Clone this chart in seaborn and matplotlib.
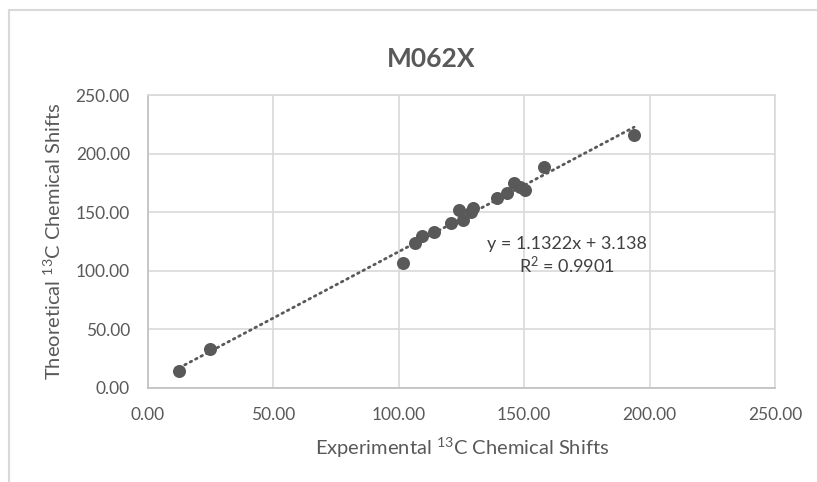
import numpy as np
import pandas as pd
import matplotlib
matplotlib.use("Agg")
import matplotlib.pyplot as plt
import seaborn as sns
from matplotlib.patches import Rectangle

# Experimental vs. theoretical 13C chemical shifts (ppm)
experimental = [12.5, 24.7, 101.8, 106.5, 109.1, 114.2, 120.8, 124.1, 125.5,
                128.7, 129.7, 139.3, 143.3, 145.9, 148.3, 150.3, 157.9, 193.8]
theoretical = [14.8, 33.0, 106.9, 124.0, 129.7, 133.4, 140.5, 151.9, 143.3,
               150.4, 153.3, 161.8, 166.6, 174.7, 171.2, 168.9, 188.3, 215.9]

# Linear trendline parameters
slope = 1.1322
intercept = 3.138
r_squared = 0.9901

axis_ticks = [0, 50, 100, 150, 200, 250]
tick_labels = [f"{t:.2f}" for t in axis_ticks]

sns.set_theme(style="white")
plt.rcParams["font.family"] = ["Lato", "DejaVu Sans"]
plt.rcParams["mathtext.fontset"] = "custom"
plt.rcParams["mathtext.rm"] = "Lato"

TEXT = "#595959"
GRID = "#d9d9d9"

fig = plt.figure(figsize=(8.17, 4.82), dpi=100)
W, H = 817, 482
ax = fig.add_axes([148 / W, 1 - 388 / H, (775 - 148) / W, (388 - 95) / H])

df = pd.DataFrame({"exp": experimental, "theo": theoretical})

# trendline over the data range
x_fit = np.array([min(experimental), max(experimental)])
fit = pd.DataFrame({"x": x_fit, "y": slope * x_fit + intercept})
sns.lineplot(data=fit, x="x", y="y", ax=ax, color=TEXT, linewidth=2.0,
             linestyle=(0, (0.6, 1.6)), dash_capstyle="round", zorder=2)

sns.scatterplot(data=df, x="exp", y="theo", ax=ax, s=88, color=TEXT,
                edgecolor=TEXT, linewidth=0, zorder=3)

ax.set_xlim(0, 250)
ax.set_ylim(0, 250)
ax.set_xticks(axis_ticks)
ax.set_yticks(axis_ticks)
ax.set_xticklabels(tick_labels)
ax.set_yticklabels(tick_labels)
ax.tick_params(axis="both", length=0, labelsize=12.5, colors=TEXT)
ax.tick_params(axis="x", pad=14)
ax.tick_params(axis="y", pad=13)
ax.grid(True, color=GRID, linewidth=1.2)
ax.set_axisbelow(True)
for side in ["top", "right"]:
    ax.spines[side].set_color(GRID)
    ax.spines[side].set_linewidth(1.2)
for side in ["left", "bottom"]:
    ax.spines[side].set_color("#bfbfbf")
    ax.spines[side].set_linewidth(1.2)
ax.set_xlabel("")
ax.set_ylabel("")

fig.text(462 / W, 1 - 448 / H, r"Experimental $\mathregular{^{13}}$C Chemical Shifts",
         ha="center", va="center", fontsize=14.5, color=TEXT)
fig.text(53 / W, 1 - 241 / H, r"Theoretical $\mathregular{^{13}}$C Chemical Shifts",
         ha="center", va="center", rotation=90, fontsize=14.5, color=TEXT)

fig.text(431 / W, 1 - 67 / H, "M062X", ha="center", va="baseline",
         fontsize=19, fontweight="bold", color=TEXT)

ax.text(167.1, 118.6, f"y = {slope}x + {intercept}", ha="center", va="baseline",
        fontsize=13, color="#404040")
ax.text(167.1, 98.1, r"R$\mathregular{^2}$ = " + f"{r_squared}", ha="center",
        va="baseline", fontsize=13, color="#404040")

# chart area border
fig.patches.append(Rectangle((9 / W, -0.1), 1.2, 1 - 10 / H + 0.1,
                             transform=fig.transFigure, fill=False,
                             edgecolor=GRID, linewidth=1.5))

fig.savefig("out.png", dpi=100)
